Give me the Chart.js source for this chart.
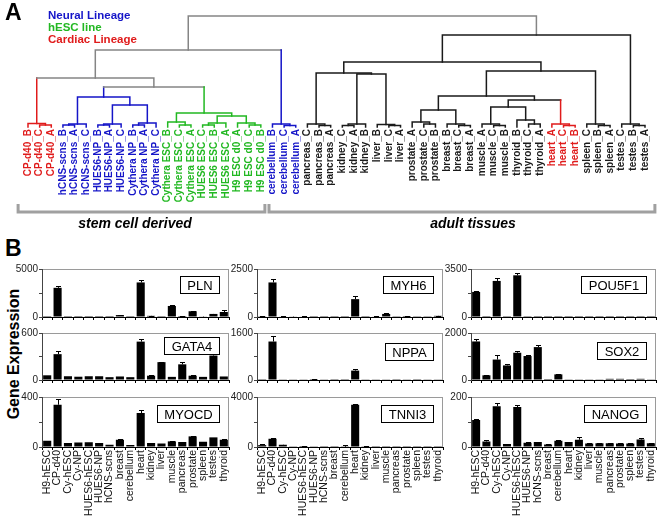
<!DOCTYPE html>
<html>
<head>
<meta charset="utf-8">
<script src="https://cdn.jsdelivr.net/npm/chart.js@4.4.1/dist/chart.umd.min.js"></script>
<style>
body { margin: 0; background: #fff; }
#wrap { position: relative; width: 660px; height: 520px; overflow: hidden; font-family: "Liberation Sans", Arial, sans-serif; }
canvas { position: absolute; }
.txt { position: absolute; white-space: nowrap; font-weight: bold; }
</style>
</head>
<body>
<div id="wrap">
  <canvas id="dendro" width="660" height="235" style="left:0;top:0"></canvas>
  <div class="txt" style="left:5px;top:1px;font-size:23px;line-height:23px">A</div>
  <div class="txt" style="left:48px;top:9px;font-size:11.5px;line-height:12px">
    <div style="color:#1515c8">Neural Lineage</div>
    <div style="color:#22b822">hESC line</div>
    <div style="color:#e01b1b">Cardiac Lineage</div>
  </div>
  <div class="txt" style="left:135px;top:216px;font-size:14px;line-height:14px;font-style:italic;transform:translateX(-50%)">stem cell derived</div>
  <div class="txt" style="left:473px;top:216px;font-size:14px;line-height:14px;font-style:italic;transform:translateX(-50%)">adult tissues</div>
  <div class="txt" style="left:5px;top:237px;font-size:23px;line-height:23px">B</div>
  <div class="txt" style="left:14px;top:354px;font-size:16px;line-height:16px;transform:translate(-50%,-50%) rotate(-90deg)">Gene Expression</div>
</div>
<script>
Chart.defaults.font.family = '"Liberation Sans", Arial, sans-serif';

// ---------- panel A : clustering ----------
const leafLabels = [
  'CP-d40_B', 'CP-d40_C', 'CP-d40_A',
  'hCNS-scns_B', 'hCNS-scns_A', 'hCNS-scns_C',
  'HUES6-NP_B', 'HUES6-NP_A', 'HUES6-NP_C',
  'Cythera NP_B', 'Cythera NP_A', 'Cythera NP_C',
  'Cythera ESC_B', 'Cythera ESC_C', 'Cythera ESC_A',
  'HUES6 ESC_C', 'HUES6 ESC_B', 'HUES6 ESC_A',
  'H9 ESC d0_A', 'H9 ESC d0_C', 'H9 ESC d0_B',
  'cerebellum_B', 'cerebellum_C', 'cerebellum_A',
  'pancreas_C', 'pancreas_B', 'pancreas_A',
  'kidney_C', 'kidney_A', 'kidney_B',
  'liver_B', 'liver_C', 'liver_A',
  'prostate_A', 'prostate_C', 'prostate_B',
  'breast_B', 'breast_C', 'breast_A',
  'muscle_A', 'muscle_C', 'muscle_B',
  'thyroid_B', 'thyroid_C', 'thyroid_A',
  'heart_A', 'heart_C', 'heart_B',
  'spleen_C', 'spleen_B', 'spleen_A',
  'testes_C', 'testes_B', 'testes_A'
];
// R cardiac, B neural, G hESC, K other
const leafGroup = 'RRRBBBBBBBBBGGGGGGGGGBBBKKKKKKKKKKKKKKKKKKKKKRRRKKKKKK';

// [child, child, height, colour]  children < 54 are leaves, 54+k is merge k
const merges = [
  [1, 2, 2, 'R'], [0, 54, 3.5, 'R'],
  [3, 4, 2, 'B'], [56, 5, 3, 'B'],
  [6, 7, 2, 'B'], [58, 8, 3, 'B'],
  [9, 10, 2, 'B'], [60, 11, 4, 'B'],
  [13, 14, 2, 'G'], [12, 62, 5, 'G'],
  [15, 16, 2, 'G'], [64, 17, 4, 'G'],
  [19, 20, 2, 'G'], [18, 66, 4, 'G'],
  [22, 23, 1.5, 'B'], [21, 68, 3, 'B'],
  [25, 26, 1.5, 'K'], [24, 70, 3, 'K'],
  [27, 28, 1.5, 'K'], [72, 29, 3, 'K'],
  [31, 32, 1.5, 'K'], [30, 74, 2.5, 'K'],
  [34, 35, 3, 'K'], [33, 76, 5, 'K'],
  [37, 38, 1.5, 'K'], [36, 78, 3, 'K'],
  [40, 41, 1.5, 'K'], [39, 80, 3, 'K'],
  [43, 44, 3, 'K'], [42, 82, 7, 'K'],
  [46, 47, 1.5, 'R'], [45, 84, 3, 'R'],
  [49, 50, 1.5, 'K'], [48, 86, 3, 'K'],
  [52, 53, 1.5, 'K'], [51, 88, 3, 'K'],
  [59, 61, 22, 'B'], [57, 90, 30, 'B'],
  [65, 67, 11, 'G'], [63, 92, 14, 'G'],
  [91, 93, 40, 'Y'], [55, 94, 49, 'Y'], [95, 69, 77, 'Y'],
  [73, 75, 53, 'K'], [71, 97, 54, 'K'],
  [77, 79, 17, 'K'], [81, 83, 20, 'K'], [100, 85, 27, 'K'],
  [99, 101, 31, 'K'], [102, 87, 56, 'K'], [98, 103, 65, 'K'],
  [104, 89, 92, 'K'],
  [96, 105, 111, 'Y']
];

const palette = { R: '#e01b1b', B: '#1515c8', G: '#22b822', K: '#1a1a1a', Y: '#858585' };

const nLeaves = leafLabels.length;
const nodeX = leafLabels.map((_, i) => i);
const nodeH = leafLabels.map(() => 0);
const nodeC = leafLabels.map(() => null);
merges.forEach(function (m) {
  nodeX.push((nodeX[m[0]] + nodeX[m[1]]) / 2);
  nodeH.push(m[2]);
  nodeC.push(m[3]);
});

function legColor(child, parent) {
  const c = nodeC[child];
  if (child >= nLeaves && (c === 'R' || c === 'B' || c === 'G')) return palette[c];
  return palette[parent];
}

const dendroSets = merges.map(function (m) {
  const a = m[0], b = m[1], h = m[2], c = m[3];
  const cols = [legColor(a, c), palette[c], legColor(b, c)];
  return {
    data: [
      { x: nodeX[a], y: nodeH[a] }, { x: nodeX[a], y: h },
      { x: nodeX[b], y: h }, { x: nodeX[b], y: nodeH[b] }
    ],
    showLine: true,
    pointRadius: 0,
    borderWidth: 1.5,
    borderColor: palette[c],
    borderCapStyle: 'square',
    segment: { borderColor: s => cols[s.p0DataIndex] },
    clip: false,
    tension: 0
  };
});

const brackets = {
  id: 'brackets',
  afterDraw(chart) {
    const x = chart.scales.x, ctx = chart.ctx;
    ctx.save();
    ctx.strokeStyle = '#a0a0a0';
    ctx.lineWidth = 3;
    [[-0.85, 20.35], [20.7, 53.85]].forEach(function (span) {
      const x0 = x.getPixelForValue(span[0]), x1 = x.getPixelForValue(span[1]);
      ctx.beginPath();
      ctx.moveTo(x0, 204);
      ctx.lineTo(x0, 212);
      ctx.lineTo(x1, 212);
      ctx.lineTo(x1, 204);
      ctx.stroke();
    });
    ctx.restore();
  }
};

new Chart(document.getElementById('dendro'), {
  type: 'scatter',
  data: { datasets: dendroSets },
  options: {
    responsive: false,
    animation: false,
    events: [],
    layout: { padding: { left: 28, right: 15, top: 16, bottom: 0 } },
    plugins: { legend: { display: false }, tooltip: { enabled: false } },
    scales: {
      x: {
        type: 'linear', min: 0, max: nLeaves - 1,
        afterBuildTicks: s => { s.ticks = leafLabels.map((_, i) => ({ value: i })); },
        afterFit: s => { s.height = 108; },
        grid: { display: false, drawTicks: false },
        border: { display: false },
        ticks: {
          autoSkip: false, minRotation: 90, maxRotation: 90, padding: 2,
          font: { size: 10, weight: 'bold' },
          color: c => palette[leafGroup[c.index]],
          callback: v => leafLabels[v]
        }
      },
      y: { min: 0, max: 111, display: false }
    }
  },
  plugins: [brackets]
});

// ---------- panel B : expression ----------
const categories = ['H9-hESC', 'CP-d40', 'Cy-hESC', 'Cy-NP', 'HUES6-hESC', 'HUES6-NP', 'hCNS-scns',
  'breast', 'cerebellum', 'heart', 'kidney', 'liver', 'muscle', 'pancreas', 'prostate', 'spleen', 'testes', 'thyroid'];

const plnValues = [10, 3040, 10, 5, 5, 5, 5, 200, 10, 3600, 120, 10, 1150, 100, 600, 40, 320, 520];
const plnErrors = [0, 150, 0, 0, 0, 0, 0, 30, 0, 250, 20, 0, 150, 20, 30, 10, 40, 170];
const myh6Values = [40, 1800, 30, 20, 30, 5, 5, 5, 5, 930, 5, 30, 160, 10, 50, 10, 10, 60];
const myh6Errors = [5, 200, 5, 5, 5, 0, 0, 0, 0, 150, 0, 5, 30, 0, 10, 0, 0, 10];
const pou5f1Values = [1830, 5, 2630, 10, 3040, 10, 5, 5, 5, 5, 5, 5, 5, 5, 5, 5, 5, 5];
const pou5f1Errors = [40, 0, 180, 0, 160, 0, 0, 0, 0, 0, 0, 0, 0, 0, 0, 0, 0, 0];
const gata4Values = [60, 330, 48, 42, 48, 48, 36, 45, 36, 490, 55, 228, 40, 200, 55, 40, 312, 45];
const gata4Errors = [0, 35, 0, 0, 0, 0, 0, 0, 0, 35, 5, 8, 0, 30, 5, 0, 28, 0];
const nppaValues = [5, 1310, 10, 10, 10, 30, 10, 5, 5, 320, 10, 10, 10, 5, 10, 5, 10, 10];
const nppaErrors = [0, 200, 0, 0, 0, 5, 0, 0, 0, 40, 0, 0, 0, 0, 0, 0, 0, 0];
const sox2Values = [1640, 200, 870, 620, 1160, 1020, 1400, 40, 240, 30, 30, 30, 30, 50, 50, 40, 50, 30];
const sox2Errors = [120, 15, 200, 70, 60, 40, 80, 0, 20, 0, 0, 0, 0, 0, 0, 0, 0, 0];
const myocdValues = [50, 338, 32, 36, 38, 32, 18, 58, 16, 272, 32, 28, 45, 40, 85, 42, 77, 58];
const myocdErrors = [0, 50, 0, 0, 0, 0, 0, 5, 0, 25, 0, 0, 3, 0, 4, 0, 0, 3];
const tnni3Values = [150, 660, 180, 20, 80, 20, 10, 10, 20, 3380, 60, 10, 10, 10, 10, 10, 10, 10];
const tnni3Errors = [60, 30, 20, 0, 10, 0, 0, 0, 120, 60, 10, 0, 0, 0, 0, 0, 0, 0];
const nanogValues = [108, 22, 163, 12, 160, 17, 20, 10, 25, 20, 29, 14, 15, 15, 14, 14, 30, 15];
const nanogErrors = [3, 5, 12, 2, 8, 2, 2, 1, 2, 1, 10, 1, 1, 1, 1, 1, 5, 1];

const geneNames = ['PLN', 'MYH6', 'POU5F1', 'GATA4', 'NPPA', 'SOX2', 'MYOCD', 'TNNI3', 'NANOG'];
const geneMax = [5000, 2500, 3500, 600, 1600, 2000, 400, 4000, 200];
const geneValues = [plnValues, myh6Values, pou5f1Values, gata4Values, nppaValues, sox2Values, myocdValues, tnni3Values, nanogValues];
const geneErrors = [plnErrors, myh6Errors, pou5f1Errors, gata4Errors, nppaErrors, sox2Errors, myocdErrors, tnni3Errors, nanogErrors];

// layout of the 3x3 grid (plot area edges, px)
const panelCols = [[42, 229], [257, 443], [471, 656]];
const panelRows = [[269, 320], [333, 383], [397, 447]];
const boxDrop = [7, 7, 7, 4, 10, 9, 8, 8, 8];

const errorBars = {
  id: 'errorBars',
  afterDatasetsDraw(chart) {
    const ds = chart.data.datasets[0];
    const y = chart.scales.y;
    const ctx = chart.ctx;
    ctx.save();
    ctx.strokeStyle = '#000';
    ctx.lineWidth = 1;
    chart.getDatasetMeta(0).data.forEach(function (bar, i) {
      const e = ds.errors[i];
      if (!e) return;
      const x = Math.round(bar.x) + 0.5;
      const top = Math.round(y.getPixelForValue(ds.data[i] + e)) + 0.5;
      ctx.beginPath();
      ctx.moveTo(x, bar.y);
      ctx.lineTo(x, top);
      ctx.moveTo(x - 2.5, top);
      ctx.lineTo(x + 2.5, top);
      ctx.stroke();
    });
    ctx.restore();
  }
};

const frameAndName = {
  id: 'frameAndName',
  beforeDraw(chart) {
    const a = chart.chartArea, ctx = chart.ctx;
    ctx.save();
    ctx.strokeStyle = '#9a9a9a';
    ctx.lineWidth = 1;
    ctx.strokeRect(a.left + 0.5, a.top + 0.5, a.width - 1, a.height);
    ctx.restore();
  },
  afterDraw(chart, args, opts) {
    const a = chart.chartArea, ctx = chart.ctx;
    ctx.save();
    ctx.font = '13px "Liberation Sans", Arial, sans-serif';
    const w = Math.round(ctx.measureText(opts.text).width + 14);
    const h = 17;
    const x = Math.round(a.right - 10 - w) + 0.5;
    const y = Math.round(a.top + opts.drop) + 0.5;
    ctx.fillStyle = '#fff';
    ctx.fillRect(x, y, w, h);
    ctx.strokeStyle = '#000';
    ctx.lineWidth = 1;
    ctx.strokeRect(x, y, w, h);
    ctx.fillStyle = '#000';
    ctx.textAlign = 'center';
    ctx.textBaseline = 'middle';
    ctx.fillText(opts.text, x + w / 2, y + h / 2 + 1);
    ctx.restore();
  }
};

const wrap = document.getElementById('wrap');

geneNames.forEach(function (name, i) {
  const l = panelCols[i % 3][0], r = panelCols[i % 3][1];
  const t = panelRows[Math.floor(i / 3)][0], b = panelRows[Math.floor(i / 3)][1];
  const bottomRow = i >= 6;
  const axisH = bottomRow ? 72 : 4;
  const max = geneMax[i];

  const cv = document.createElement('canvas');
  cv.width = r - l + 48;
  cv.height = b - t + 8 + axisH;
  cv.style.left = (l - 40) + 'px';
  cv.style.top = (t - 8) + 'px';
  wrap.appendChild(cv);

  new Chart(cv, {
    type: 'bar',
    data: {
      labels: categories,
      datasets: [{
        data: geneValues[i],
        errors: geneErrors[i],
        backgroundColor: '#000',
        barPercentage: 0.78,
        categoryPercentage: 1
      }]
    },
    options: {
      responsive: false,
      animation: false,
      events: [],
      layout: { padding: { top: 8, right: 8, left: 0, bottom: 0 } },
      plugins: {
        legend: { display: false },
        tooltip: { enabled: false },
        frameAndName: { text: name, drop: boxDrop[i] }
      },
      scales: {
        x: {
          grid: { drawOnChartArea: false, tickLength: 3, color: '#000', offset: true },
          border: { color: '#000' },
          ticks: {
            display: bottomRow, autoSkip: false, minRotation: 90, maxRotation: 90,
            padding: 0, color: '#111', font: { size: 10.5 }
          },
          afterFit: s => { s.height = axisH; }
        },
        y: {
          min: 0, max: max,
          grid: { drawOnChartArea: false, tickLength: 3, color: '#444' },
          border: { color: '#444' },
          ticks: {
            stepSize: max / 4, padding: 1, color: '#222', font: { size: 10 },
            callback: v => (v === 0 || v === max) ? v : ''
          },
          afterFit: s => { s.width = 40; }
        }
      }
    },
    plugins: [errorBars, frameAndName]
  });
});
</script>
</body>
</html>
